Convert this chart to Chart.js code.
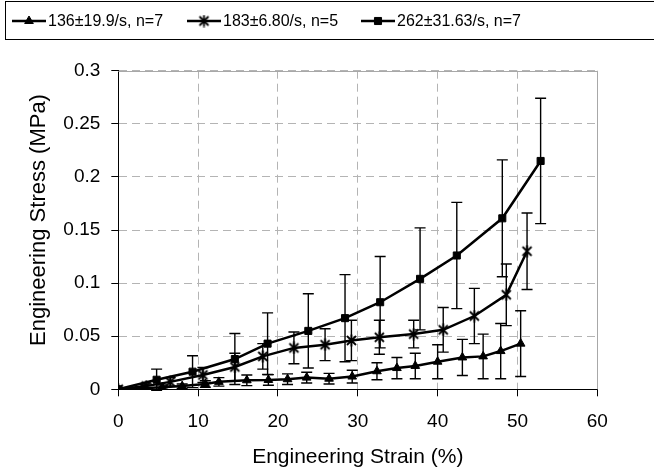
<!DOCTYPE html>
<html>
<head>
<meta charset="utf-8">
<title>Engineering stress vs strain</title>
<script src="https://cdn.jsdelivr.net/npm/chart.js@4/dist/chart.umd.min.js"></script>
<style>
  html, body { margin: 0; padding: 0; background: #fff; }
  canvas { display: block; }
</style>
</head>
<body>
<canvas id="chart" width="654" height="471" style="width:654px;height:471px"></canvas>
<script>
// Data (strain %, stress MPa, +/- error)
const seriesLabels = ['136±19.9/s, n=7', '183±6.80/s, n=5', '262±31.63/s, n=7'];

const triX = [0, 3, 5.5, 8, 10.9, 12.6, 16.1, 18.8, 21.2, 23.6, 26.4, 29.3, 32.4, 34.9, 37.2, 40, 43.1, 45.7, 47.9, 50.4];
const triY = [0, 0.001, 0.002, 0.003, 0.005, 0.007, 0.0085, 0.0088, 0.0095, 0.011, 0.010, 0.012, 0.017, 0.020, 0.022, 0.026, 0.030, 0.031, 0.036, 0.043];
const triErr = [0, 0.001, 0.002, 0.002, 0.003, 0.004, 0.005, 0.005, 0.005, 0.005, 0.005, 0.006, 0.008, 0.010, 0.012, 0.016, 0.017, 0.021, 0.026, 0.031];

const starX = [0, 3.5, 6.5, 10.6, 14.6, 18.1, 22, 25.9, 29.2, 32.7, 37, 40.7, 44.6, 48.6, 51.2];
const starY = [0, 0.003, 0.007, 0.0135, 0.021, 0.031, 0.039, 0.042, 0.046, 0.049, 0.052, 0.056, 0.069, 0.089, 0.130];
const starErr = [0, 0.002, 0.004, 0.007, 0.013, 0.012, 0.015, 0.015, 0.019, 0.016, 0.013, 0.021, 0.026, 0.029, 0.036];

const sqX = [0, 4.8, 9.3, 14.6, 18.7, 23.8, 28.4, 32.8, 37.8, 42.4, 48.1, 52.9];
const sqY = [0, 0.009, 0.0166, 0.0285, 0.043, 0.055, 0.067, 0.082, 0.104, 0.126, 0.161, 0.215];
const sqErr = [0, 0.010, 0.015, 0.024, 0.029, 0.035, 0.041, 0.043, 0.048, 0.050, 0.055, 0.059];

const xTickValues = [0, 10, 20, 30, 40, 50, 60];
const yTickValues = [0, 0.05, 0.1, 0.15, 0.2, 0.25, 0.3];

const xTitle = 'Engineering Strain (%)';
const yTitle = 'Engineering Stress (MPa)';

const FONT = '"Liberation Sans", Arial, sans-serif';

function toPoints(xs, ys) {
    return xs.map((x, i) => ({ x: x, y: ys[i] }));
}

// Excel-style asterisk marker: an X with a vertical stroke
function makeAsterisk() {
    const c = document.createElement('canvas');
    c.width = 13;
    c.height = 13;
    const g = c.getContext('2d');
    g.strokeStyle = '#000';
    g.lineWidth = 1.8;
    g.beginPath();
    g.moveTo(6.5, 0.5); g.lineTo(6.5, 12.5);
    g.moveTo(2, 2); g.lineTo(11, 11);
    g.moveTo(11, 2); g.lineTo(2, 11);
    g.stroke();
    return c;
}
const asterisk = makeAsterisk();

// Plot frame (light grey top/right edges) and error bars
const errorBars = {
    id: 'errorBars',
    beforeDatasetsDraw(chart) {
        const { ctx, chartArea, scales: { x, y } } = chart;
        ctx.save();
        ctx.strokeStyle = '#a8a8a8';
        ctx.lineWidth = 1;
        ctx.beginPath();
        ctx.moveTo(chartArea.left, Math.round(chartArea.top) + 0.5);
        ctx.lineTo(Math.round(chartArea.right) + 0.5, Math.round(chartArea.top) + 0.5);
        ctx.lineTo(Math.round(chartArea.right) + 0.5, chartArea.bottom);
        ctx.stroke();

        ctx.strokeStyle = '#000';
        ctx.lineWidth = 1.4;
        chart.data.datasets.forEach(ds => {
            ds.data.forEach((p, i) => {
                const e = ds.errors[i];
                if (!e) return;
                const px = x.getPixelForValue(p.x);
                const top = y.getPixelForValue(p.y + e);
                const bot = y.getPixelForValue(p.y - e);
                const w = 5.5;
                ctx.beginPath();
                ctx.moveTo(px, top); ctx.lineTo(px, bot);
                ctx.moveTo(px - w, top); ctx.lineTo(px + w, top);
                ctx.moveTo(px - w, bot); ctx.lineTo(px + w, bot);
                ctx.stroke();
            });
        });
        ctx.restore();
    }
};

// Rotated y-axis title, sitting a little above the plot centre as in the reference
const yAxisTitle = {
    id: 'yAxisTitle',
    afterDraw(chart) {
        const ctx = chart.ctx;
        const area = chart.chartArea;
        ctx.save();
        ctx.translate(39, (area.top + area.bottom) / 2 - 10);
        ctx.rotate(-Math.PI / 2);
        ctx.font = '22px ' + FONT;
        ctx.fillStyle = '#000';
        ctx.textAlign = 'center';
        ctx.textBaseline = 'middle';
        ctx.fillText(yTitle, 0, 0);
        ctx.restore();
    }
};

// Boxed legend across the top, line sample with marker
const boxLegend = {
    id: 'boxLegend',
    afterDraw(chart) {
        const ctx = chart.ctx;
        ctx.save();
        ctx.strokeStyle = '#000';
        ctx.lineWidth = 1;
        ctx.strokeRect(5.5, 1.5, 660, 38);

        const starts = [12, 187, 361];
        const cy = 21;
        ctx.font = '16px ' + FONT;
        ctx.textBaseline = 'middle';
        chart.data.datasets.forEach((ds, i) => {
            const sx = starts[i];
            ctx.strokeStyle = '#000';
            ctx.fillStyle = '#000';
            ctx.lineWidth = 2.5;
            ctx.beginPath();
            ctx.moveTo(sx, cy); ctx.lineTo(sx + 34, cy);
            ctx.stroke();
            ctx.lineWidth = 1;
            Chart.helpers.drawPoint(ctx, {
                pointStyle: ds.pointStyle,
                radius: ds.pointRadius,
                rotation: 0,
                borderWidth: 1
            }, sx + 17, cy);
            ctx.fillStyle = '#000';
            ctx.fillText(ds.label, sx + 36, cy + 1);
        });
        ctx.restore();
    }
};

const ctx = document.getElementById('chart').getContext('2d');

new Chart(ctx, {
    type: 'line',
    data: {
        datasets: [
            {
                label: seriesLabels[0],
                data: toPoints(triX, triY),
                errors: triErr,
                borderColor: '#000',
                backgroundColor: '#000',
                borderWidth: 2.5,
                pointStyle: 'triangle',
                pointRadius: 5,
                pointBorderWidth: 1,
                tension: 0
            },
            {
                label: seriesLabels[1],
                data: toPoints(starX, starY),
                errors: starErr,
                borderColor: '#000',
                backgroundColor: '#000',
                borderWidth: 2.5,
                pointStyle: asterisk,
                pointRadius: 6,
                tension: 0
            },
            {
                label: seriesLabels[2],
                data: toPoints(sqX, sqY),
                errors: sqErr,
                borderColor: '#000',
                backgroundColor: '#000',
                borderWidth: 2.5,
                pointStyle: 'rect',
                pointRadius: 5,
                pointBorderWidth: 1,
                tension: 0
            }
        ]
    },
    options: {
        responsive: false,
        animation: false,
        devicePixelRatio: 1,
        layout: {
            padding: { top: 70.7, right: 56.7, left: 0, bottom: 0 }
        },
        plugins: {
            legend: { display: false },
            tooltip: { enabled: false }
        },
        scales: {
            x: {
                type: 'linear',
                min: 0,
                max: 60,
                afterBuildTicks: scale => {
                    scale.ticks = xTickValues.map(v => ({ value: v }));
                },
                afterFit: scale => { scale.height = 81.7; },
                grid: {
                    color: '#b4b4b4',
                    lineWidth: 1,
                    tickLength: 7,
                    tickColor: '#000'
                },
                border: { color: '#000', width: 1, dash: [8, 5] },
                ticks: {
                    color: '#000',
                    font: { family: FONT, size: 19 },
                    padding: 14,
                    maxRotation: 0
                },
                title: {
                    display: true,
                    text: xTitle,
                    color: '#000',
                    font: { family: FONT, size: 21 },
                    padding: { top: 0, bottom: 1 }
                }
            },
            y: {
                type: 'linear',
                min: 0,
                max: 0.3,
                afterBuildTicks: scale => {
                    scale.ticks = yTickValues.map(v => ({ value: v }));
                },
                afterFit: scale => { scale.width = 118.3; },
                grid: {
                    color: '#b4b4b4',
                    lineWidth: 1,
                    tickLength: 7,
                    tickColor: '#000'
                },
                border: { color: '#000', width: 1, dash: [8, 5] },
                ticks: {
                    color: '#000',
                    font: { family: FONT, size: 19 },
                    padding: 11,
                    callback: v => String(+v.toFixed(2))
                },
                title: { display: false }
            }
        }
    },
    plugins: [errorBars, yAxisTitle, boxLegend]
});
</script>
</body>
</html>
